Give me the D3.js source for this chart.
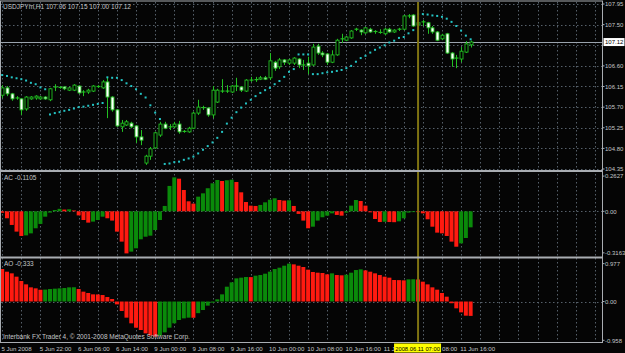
<!DOCTYPE html>
<html>
<head>
<meta charset="utf-8">
<script src="https://cdn.jsdelivr.net/npm/d3@7"></script>
<style>
  html, body { margin: 0; padding: 0; background: #000; }
  svg { display: block; }
  text { font-family: "Liberation Sans", Arial, sans-serif; }
</style>
</head>
<body>
<svg id="chart" width="625" height="353"></svg>
<script>
// USDJPYm H1, bars from 5 Jun 2008 14:00 to 11 Jun 2008 18:00
const open = [105.96,106.12,105.99,105.90,105.88,105.66,105.88,105.90,105.88,105.92,
  105.86,106.14,106.12,106.14,106.07,106.07,106.16,106.03,106.03,106.05,
  106.14,106.12,106.25,105.92,105.64,105.27,105.31,105.35,105.29,105.05,
  104.48,104.63,104.81,105.09,105.33,105.27,105.27,105.33,105.16,105.16,
  105.24,105.57,105.70,105.68,105.53,105.81,106.05,106.05,106.03,106.16,
  106.14,106.05,106.29,106.29,106.31,106.34,106.34,106.68,106.58,106.73,
  106.66,106.66,106.75,106.62,106.66,106.62,107.03,106.88,106.86,106.68,
  106.84,107.19,107.16,107.21,107.40,107.38,107.32,107.40,107.34,107.34,
  107.30,107.40,107.34,107.40,107.40,107.69,107.71,107.49,107.56,107.54,
  107.43,107.34,107.19,107.30,106.88,106.77,106.75,106.90,107.06];
const high = [106.18,106.16,106.01,105.94,105.90,105.94,105.94,105.96,105.94,105.94,
  106.12,106.20,106.16,106.16,106.14,106.20,106.18,106.07,106.10,106.18,
  106.18,106.29,106.34,105.94,105.66,105.42,105.42,105.38,105.31,105.20,
  104.66,104.83,105.16,105.38,105.38,105.33,105.38,105.40,105.20,105.27,
  105.60,105.86,105.73,105.70,106.16,106.10,106.31,106.18,106.18,106.34,
  106.16,106.31,106.36,106.36,106.38,106.38,106.88,106.71,106.77,106.75,
  106.75,106.79,106.77,106.73,106.80,107.08,107.08,106.92,106.88,106.94,
  107.19,107.30,107.25,107.38,107.43,107.40,107.45,107.43,107.38,107.40,
  107.43,107.43,107.40,107.43,107.71,107.73,107.73,107.58,107.60,107.56,
  107.47,107.36,107.30,107.32,106.90,106.84,107.01,107.14,107.15];
const low = [105.90,105.94,105.84,105.86,105.53,105.62,105.86,105.86,105.86,105.86,
  105.83,106.05,106.10,106.07,106.05,106.05,105.99,105.94,105.99,106.03,
  106.12,106.10,105.46,105.60,105.27,105.16,105.29,105.24,104.92,104.87,
  104.44,104.55,104.79,105.05,105.22,105.20,105.24,105.12,105.14,105.14,
  105.22,105.53,105.64,105.49,105.46,105.79,106.01,106.01,106.01,106.05,
  106.03,106.03,106.25,106.25,106.29,106.29,106.29,106.49,106.53,106.62,
  106.62,106.62,106.55,106.51,106.42,106.60,106.84,106.79,106.62,106.66,
  106.82,107.10,107.14,107.19,107.36,107.27,107.30,107.32,107.30,107.30,
  107.27,107.32,107.32,107.36,107.38,107.64,107.45,107.43,107.47,107.30,
  107.30,107.14,107.16,106.86,106.58,106.55,106.68,106.88,107.00];
const close = [106.12,105.99,105.88,105.90,105.64,105.92,105.92,105.94,105.92,105.88,
  106.10,106.14,106.14,106.10,106.12,106.18,106.01,106.03,106.07,106.16,
  106.16,106.25,105.92,105.64,105.29,105.35,105.38,105.27,105.05,104.98,
  104.63,104.79,105.14,105.33,105.24,105.27,105.33,105.16,105.18,105.24,
  105.57,105.70,105.68,105.53,106.07,106.07,106.05,106.05,106.16,106.16,
  106.07,106.29,106.29,106.31,106.34,106.31,106.71,106.55,106.73,106.68,
  106.73,106.77,106.62,106.62,106.60,107.01,106.88,106.84,106.68,106.84,
  107.16,107.19,107.23,107.36,107.40,107.34,107.43,107.34,107.36,107.32,
  107.40,107.34,107.38,107.40,107.69,107.69,107.47,107.54,107.56,107.43,
  107.34,107.16,107.27,106.88,106.75,106.77,106.92,107.08,107.12];

// Parabolic SAR
const sar = [106.40,106.38,106.35,106.33,106.31,106.28,106.23,106.20,106.13,106.09,
  105.54,105.57,105.59,105.62,105.64,105.67,105.70,105.71,105.73,105.75,
  105.77,105.79,106.35,106.34,106.34,106.29,106.22,106.16,106.09,105.99,
  105.91,105.74,105.58,105.44,104.46,104.47,104.50,104.51,104.55,104.58,
  104.62,104.69,104.77,104.85,104.93,105.03,105.16,105.34,105.47,105.59,
  105.69,105.78,105.86,105.94,106.01,106.07,106.12,106.20,106.27,106.36,
  106.47,106.53,106.85,106.85,106.85,106.42,106.42,106.44,106.46,106.47,
  106.49,106.51,106.55,106.60,106.69,106.77,106.82,106.89,106.95,107.00,
  107.05,107.11,107.15,107.21,107.23,107.31,107.38,107.73,107.73,107.72,
  107.70,107.69,107.67,107.63,107.56,107.47,107.37,107.26,107.18];

// Accelerator Oscillator
const ac = [-0.010,-0.048,-0.094,-0.140,-0.170,-0.166,-0.152,-0.117,-0.087,-0.037,
  -0.009,0.009,0.017,0.012,0.014,0.006,-0.028,-0.060,-0.078,-0.071,
  -0.060,-0.037,-0.048,-0.064,-0.140,-0.209,-0.290,-0.278,-0.255,-0.193,
  -0.175,-0.168,-0.129,-0.060,0.037,0.175,0.234,0.225,0.147,0.069,
  0.053,0.101,0.124,0.159,0.193,0.216,0.209,0.214,0.218,0.202,
  0.131,0.064,0.039,0.037,0.044,0.062,0.080,0.090,0.078,0.074,
  0.076,0.037,-0.018,-0.064,-0.117,-0.106,-0.064,-0.041,-0.030,-0.014,
  -0.025,-0.030,-0.009,0.039,0.078,0.071,0.039,-0.007,-0.053,-0.074,
  -0.072,-0.074,-0.075,-0.069,-0.048,-0.009,-0.002,-0.003,-0.014,-0.055,
  -0.106,-0.147,-0.152,-0.170,-0.209,-0.244,-0.221,-0.184,-0.1105];

// Awesome Oscillator
const ao = [0.752,0.690,0.652,0.575,0.475,0.397,0.328,0.305,0.272,0.276,
  0.289,0.297,0.305,0.312,0.328,0.330,0.289,0.228,0.197,0.166,
  0.164,0.150,0.104,0.058,-0.066,-0.220,-0.374,-0.505,-0.606,-0.660,
  -0.737,-0.790,-0.814,-0.790,-0.714,-0.606,-0.505,-0.428,-0.390,-0.374,
  -0.376,-0.270,-0.197,-0.096,-0.027,0.050,0.166,0.343,0.444,0.536,
  0.552,0.567,0.565,0.598,0.613,0.644,0.691,0.752,0.783,0.829,
  0.876,0.860,0.829,0.799,0.737,0.683,0.667,0.660,0.629,0.652,
  0.613,0.606,0.621,0.667,0.729,0.745,0.721,0.690,0.652,0.613,
  0.575,0.552,0.498,0.495,0.490,0.513,0.515,0.510,0.459,0.397,
  0.328,0.274,0.197,0.112,-0.040,-0.158,-0.251,-0.328,-0.333];

const priceTicks = [107.95,107.50,107.05,106.60,106.15,105.70,105.25,104.80,104.35];
const priceTickLabels = ["107.95","107.50","","106.60","106.15","105.70","105.25","104.80","104.35"];
const acTicks = [0.2627, 0, -0.3163];
const acTickLabels = ["0.2627","0.00","-0.3163"];
const aoTicks = [0.977, 0, -0.958];
const aoTickLabels = ["0.977","0.00","-0.958"];
// the 11 Jun 00:00 / 08:00 labels are mostly hidden under the cursor time box
const timeLabels = ["5 Jun 2008","5 Jun 22:00","6 Jun 06:00","6 Jun 14:00","9 Jun 00:00",
  "9 Jun 08:00","9 Jun 16:00","10 Jun 00:00","10 Jun 08:00","10 Jun 16:00",
  "11 J","","11 Jun 16:00"];
const hiddenTail = "08:00";
const title = "USDJPYm,H1  107.06 107.15 107.00 107.12";
const lastPrice = 107.12;
const markBar = 87, markLabel = "2008.06.11 07:00";

const svg = d3.select("#chart");
const W = 625, H = 353;
const right = 602.5;

svg.append("rect").attr("width", W).attr("height", H).attr("fill", "#050505");

const x = d3.scaleLinear().domain([0, 98]).range([2.2, 2.2 + 4.78 * 98]);
const y = d3.scaleLinear().domain([104.35, 107.95]).range([169, 4]);
const yAc = d3.scaleLinear().domain([-0.3163, 0.2627]).range([257.2, 173.2]);
const yAo = d3.scaleLinear().domain([-0.958, 0.977]).range([342.9, 259.3]);

const gridCol = "#56606a";
const grid = svg.append("g").attr("stroke", gridCol).attr("stroke-width", 1)
  .attr("stroke-dasharray", "1.5,2.5");

// vertical grid every 4 bars, also in empty space to the right
d3.range(0, 126, 4).forEach(i => {
  const gx = Math.round(x(i)) + 0.5;
  if (gx < right - 2) {
    grid.append("line").attr("x1", gx).attr("x2", gx).attr("y1", 2).attr("y2", 342);
  }
});
priceTicks.forEach(p => {
  const gy = Math.round(y(p)) + 0.5;
  grid.append("line").attr("x1", 1).attr("x2", right).attr("y1", gy).attr("y2", gy);
});
[yAc(0), yAo(0)].forEach(v => {
  const gy = Math.round(v) + 0.5;
  grid.append("line").attr("x1", 1).attr("x2", right).attr("y1", gy).attr("y2", gy);
});

// bid line
svg.append("line").attr("x1", 1).attr("x2", right)
  .attr("y1", Math.round(y(lastPrice)) + 0.5).attr("y2", Math.round(y(lastPrice)) + 0.5)
  .attr("stroke", "#9aa3ad").attr("stroke-width", 1);

// histograms
function histo(vals, ys) {
  const g = svg.append("g");
  g.selectAll("rect").data(vals).enter().append("rect")
    .attr("x", (d, i) => x(i) - 2)
    .attr("width", 4)
    .attr("y", d => Math.min(ys(d), ys(0)))
    .attr("height", d => Math.max(0.8, Math.abs(ys(d) - ys(0))))
    .attr("fill", (d, i) => (i > 0 && d > vals[i - 1]) ? "#0a8a0a" : "#ff1a10");
}
histo(ac, yAc);
histo(ao, yAo);

// candles
const lime = "#22c022";
const cg = svg.append("g");
open.forEach((o, i) => {
  const cx = Math.round(x(i)) + 0.5;
  const c = close[i];
  cg.append("line").attr("x1", cx).attr("x2", cx)
    .attr("y1", y(high[i])).attr("y2", y(low[i]))
    .attr("stroke", lime).attr("stroke-width", 1);
  const top = y(Math.max(o, c)), bot = y(Math.min(o, c));
  if (bot - top < 1) {
    cg.append("line").attr("x1", cx - 2).attr("x2", cx + 2)
      .attr("y1", (top + bot) / 2).attr("y2", (top + bot) / 2)
      .attr("stroke", lime).attr("stroke-width", 1.2);
  } else {
    cg.append("rect").attr("x", cx - 1.5).attr("width", 3)
      .attr("y", top).attr("height", bot - top)
      .attr("fill", c < o ? "#ffffff" : "#000000")
      .attr("stroke", lime).attr("stroke-width", 0.9);
  }
});

// SAR dots
svg.append("g").selectAll("rect").data(sar).enter().append("rect")
  .attr("x", (d, i) => x(i) - 1).attr("y", d => y(d) - 1)
  .attr("width", 2).attr("height", 2).attr("fill", "#24c4c4");

// vertical line object
const mx = x(markBar);
svg.append("line").attr("x1", mx).attr("x2", mx).attr("y1", 2).attr("y2", 342)
  .attr("stroke", "#7f7312").attr("stroke-width", 2);

// frames
const frame = svg.append("g").attr("fill", "none").attr("stroke", "#a9adb2");
frame.append("rect").attr("x", 0.5).attr("y", 1).attr("width", right - 0.5).attr("height", 341.5)
  .attr("stroke-width", 1);
[171, 257.5].forEach(v => {
  frame.append("line").attr("x1", 0).attr("x2", right).attr("y1", v).attr("y2", v)
    .attr("stroke-width", 2);
});

// axis labels
const txt = "#c4c6c8";
const fs = "6.5px";
const fsAxis = "6.1px";
function axisLabels(ticks, labels, ys) {
  ticks.forEach((t, k) => {
    if (!labels[k]) return;
    const ty = ys(t);
    svg.append("line").attr("x1", right).attr("x2", right + 2).attr("y1", ty).attr("y2", ty)
      .attr("stroke", "#a9adb2");
    svg.append("text").attr("x", 605).attr("y", ty + 2.2).attr("font-size", "6px")
      .attr("fill", txt).text(labels[k]);
  });
}
axisLabels(priceTicks, priceTickLabels, y);
axisLabels(acTicks.map((t, k) => k === 0 ? t - 0.02 : (k === 2 ? t + 0.03 : t)), acTickLabels, yAc);
axisLabels(aoTicks.map((t, k) => k === 0 ? t - 0.1 : (k === 2 ? t + 0.06 : t)), aoTickLabels, yAo);

// last price box
const by = y(lastPrice);
svg.append("rect").attr("x", 603.5).attr("y", by - 4).attr("width", 21).attr("height", 8)
  .attr("fill", "#ffffff");
svg.append("text").attr("x", 605).attr("y", by + 2.2).attr("font-size", "6px")
  .attr("fill", "#000").text(lastPrice.toFixed(2));

// time axis
timeLabels.forEach((t, k) => {
  if (!t) return;
  svg.append("text").attr("x", x(k * 8) - 0.8).attr("y", 350.5).attr("font-size", fsAxis)
    .attr("fill", txt).text(t);
});
svg.append("rect").attr("x", mx - 24).attr("y", 343.5).attr("width", 47).attr("height", 9)
  .attr("fill", "#ffff00");
svg.append("text").attr("x", mx - 0.5).attr("y", 350.5).attr("font-size", "5.8px")
  .attr("text-anchor", "middle").attr("fill", "#000").text(markLabel);
svg.append("text").attr("x", 442).attr("y", 350.5).attr("font-size", fsAxis)
  .attr("fill", txt).text(hiddenTail);

// window captions
svg.append("text").attr("x", 3).attr("y", 9).attr("font-size", fs).attr("fill", txt).text(title);
svg.append("text").attr("x", 4).attr("y", 180).attr("font-size", fs).attr("fill", txt)
  .text("AC -0.1105");
svg.append("text").attr("x", 4).attr("y", 266).attr("font-size", fs).attr("fill", txt)
  .text("AO -0.333");
svg.append("text").attr("x", 3).attr("y", 339).attr("font-size", fs).attr("fill", txt)
  .text("Interbank FX Trader 4, \u00a9 2001-2008 MetaQuotes Software Corp.");
</script>
</body>
</html>
